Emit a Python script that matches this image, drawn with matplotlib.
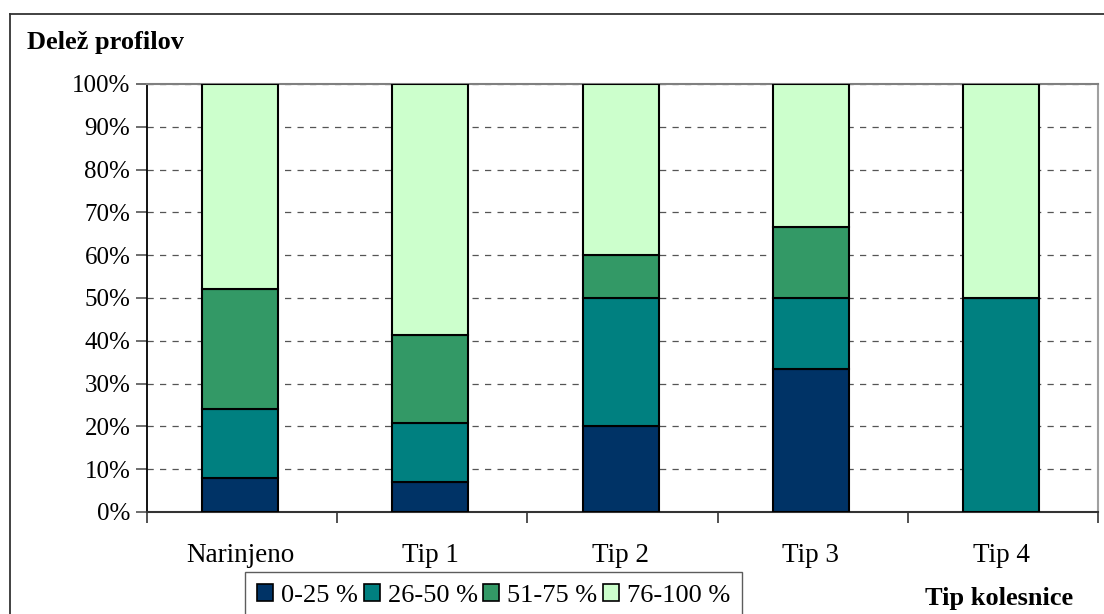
import matplotlib
matplotlib.use("Agg")
import matplotlib.pyplot as plt
import numpy as np
from matplotlib.lines import Line2D
from matplotlib.patches import Patch

plt.rcParams['font.family'] = ['Liberation Serif', 'DejaVu Serif']

categories = ["Narinjeno", "Tip 1", "Tip 2", "Tip 3", "Tip 4"]
series_labels = ["0-25 %", "26-50 %", "51-75 %", "76-100 %"]
share_0_25 = [8.0, 6.9, 20.0, 33.3, 0.0]
share_26_50 = [16.0, 13.8, 30.0, 16.7, 50.0]
share_51_75 = [28.0, 20.7, 10.0, 16.7, 0.0]
share_76_100 = [48.0, 58.6, 40.0, 33.3, 50.0]
y_ticks = [0, 10, 20, 30, 40, 50, 60, 70, 80, 90, 100]

colors = ["#003366", "#008080", "#339966", "#CCFFCC"]

W, H = 1104, 614
fig = plt.figure(figsize=(W / 100, H / 100), dpi=100)

# outer chart frame (left and top edges)
fig.add_artist(Line2D([10 / W, 10 / W], [0, 1 - 14 / H], transform=fig.transFigure,
                      color="#333333", lw=1.3))
fig.add_artist(Line2D([10 / W, 1], [1 - 14 / H, 1 - 14 / H], transform=fig.transFigure,
                      color="#333333", lw=1.3))

left, right, top, bottom = 147, 1098, 84, 512
ax = fig.add_axes([left / W, 1 - bottom / H, (right - left) / W, (bottom - top) / H])

x = np.arange(len(categories))
stack = [share_0_25, share_26_50, share_51_75, share_76_100]
base = np.zeros(len(categories))
for vals, col, lab in zip(stack, colors, series_labels):
    vals = np.array(vals)
    ax.bar(x - 0.01, vals, bottom=base, width=0.4, color=col, edgecolor="black",
           linewidth=1.5, label=lab, zorder=3)
    base += vals

ax.set_xlim(-0.5, len(categories) - 0.5)
ax.set_ylim(0, 100)
ax.set_yticks(y_ticks)
ax.set_yticklabels([f"{v}%" for v in y_ticks], fontsize=18)
ax.yaxis.grid(True, linestyle=(0, (5, 5)), color="#555555", linewidth=0.9, zorder=0)
ax.set_axisbelow(True)

ax.set_xticks(np.arange(-0.5, len(categories), 1.0))
ax.set_xticklabels([])
ax.set_xticks(x - 0.01, minor=True)
ax.set_xticklabels(categories, minor=True, fontsize=19.5)
ax.tick_params(axis="x", which="minor", length=0, pad=22)
ax.tick_params(axis="x", which="major", direction="out", length=8, width=1.2, color="#333333")
ax.tick_params(axis="y", direction="out", length=8, width=1.2, color="#555555", pad=4)

ax.spines["left"].set_color("black")
ax.spines["left"].set_linewidth(1.3)
ax.spines["bottom"].set_color("#333333")
ax.spines["bottom"].set_linewidth(1.5)
ax.spines["top"].set_color("#808080")
ax.spines["top"].set_linewidth(1.5)
ax.spines["right"].set_color("#a0a0a0")
ax.spines["right"].set_linewidth(1.5)

fig.text(27 / W, 1 - 42 / H, "Delež profilov", fontsize=19, fontweight="bold",
         ha="left", va="center")
fig.text(999 / W, 1 - 598 / H, "Tip kolesnice", fontsize=19, fontweight="bold",
         ha="center", va="center")

handles = [Patch(facecolor=c, edgecolor="black", linewidth=1.2) for c in colors]
leg = fig.legend(handles, series_labels, loc="upper left",
                 bbox_to_anchor=(245 / W, 1 - 572 / H), ncol=4, fontsize=19,
                 frameon=True, fancybox=False, borderpad=0.47, handlelength=0.6,
                 handleheight=0.6, handletextpad=0.3, columnspacing=0.22,
                 borderaxespad=0)
leg.get_frame().set_edgecolor("#333333")
leg.get_frame().set_linewidth(1.0)

fig.savefig("out.png", dpi=100)
